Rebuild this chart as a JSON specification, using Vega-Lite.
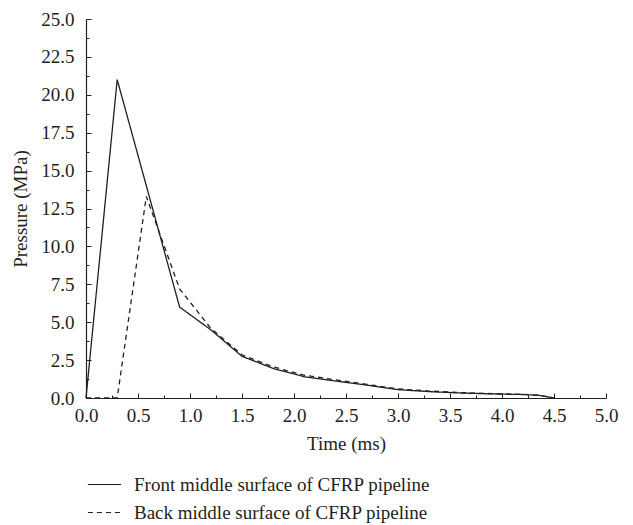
{
  "$schema": "https://vega.github.io/schema/vega-lite/v6.json",
  "autosize": "none",
  "width": 520,
  "height": 379,
  "padding": {"left": 86, "top": 19, "right": 27, "bottom": 127},
  "background": "white",
  "config": {
    "view": {"stroke": null},
    "font": "Liberation Serif",
    "axis": {
      "domainColor": "#231f20",
      "domainWidth": 1.2,
      "tickColor": "#231f20",
      "tickWidth": 1,
      "grid": false,
      "labelFlush": false,
      "labelFont": "Liberation Serif",
      "labelFontSize": 19,
      "labelColor": "#231f20",
      "titleFont": "Liberation Serif",
      "titleFontSize": 19,
      "titleFontWeight": "normal",
      "titleColor": "#231f20"
    }
  },
  "data": {
    "values": [
      {"t": 0.0, "p": 0.0, "s": "Front middle surface of CFRP pipeline"},
      {"t": 0.3, "p": 21.0, "s": "Front middle surface of CFRP pipeline"},
      {"t": 0.9, "p": 6.0, "s": "Front middle surface of CFRP pipeline"},
      {"t": 1.2, "p": 4.5, "s": "Front middle surface of CFRP pipeline"},
      {"t": 1.5, "p": 2.75, "s": "Front middle surface of CFRP pipeline"},
      {"t": 1.8, "p": 1.95, "s": "Front middle surface of CFRP pipeline"},
      {"t": 2.1, "p": 1.4, "s": "Front middle surface of CFRP pipeline"},
      {"t": 2.4, "p": 1.12, "s": "Front middle surface of CFRP pipeline"},
      {"t": 2.7, "p": 0.85, "s": "Front middle surface of CFRP pipeline"},
      {"t": 3.0, "p": 0.55, "s": "Front middle surface of CFRP pipeline"},
      {"t": 3.3, "p": 0.42, "s": "Front middle surface of CFRP pipeline"},
      {"t": 3.6, "p": 0.33, "s": "Front middle surface of CFRP pipeline"},
      {"t": 3.9, "p": 0.27, "s": "Front middle surface of CFRP pipeline"},
      {"t": 4.2, "p": 0.23, "s": "Front middle surface of CFRP pipeline"},
      {"t": 4.35, "p": 0.18, "s": "Front middle surface of CFRP pipeline"},
      {"t": 4.5, "p": 0.0, "s": "Front middle surface of CFRP pipeline"},
      {"t": 0.0, "p": 0.0, "s": "Back middle surface of CFRP pipeline"},
      {"t": 0.3, "p": 0.0, "s": "Back middle surface of CFRP pipeline"},
      {"t": 0.58, "p": 13.3, "s": "Back middle surface of CFRP pipeline"},
      {"t": 0.9, "p": 7.2, "s": "Back middle surface of CFRP pipeline"},
      {"t": 1.2, "p": 4.6, "s": "Back middle surface of CFRP pipeline"},
      {"t": 1.5, "p": 2.85, "s": "Back middle surface of CFRP pipeline"},
      {"t": 1.8, "p": 2.05, "s": "Back middle surface of CFRP pipeline"},
      {"t": 2.1, "p": 1.5, "s": "Back middle surface of CFRP pipeline"},
      {"t": 2.4, "p": 1.2, "s": "Back middle surface of CFRP pipeline"},
      {"t": 2.7, "p": 0.9, "s": "Back middle surface of CFRP pipeline"},
      {"t": 3.0, "p": 0.6, "s": "Back middle surface of CFRP pipeline"},
      {"t": 3.3, "p": 0.46, "s": "Back middle surface of CFRP pipeline"},
      {"t": 3.6, "p": 0.36, "s": "Back middle surface of CFRP pipeline"},
      {"t": 3.9, "p": 0.29, "s": "Back middle surface of CFRP pipeline"},
      {"t": 4.2, "p": 0.24, "s": "Back middle surface of CFRP pipeline"},
      {"t": 4.35, "p": 0.19, "s": "Back middle surface of CFRP pipeline"},
      {"t": 4.5, "p": 0.0, "s": "Back middle surface of CFRP pipeline"}
    ]
  },
  "mark": {"type": "line", "color": "#231f20", "strokeWidth": 1.3},
  "encoding": {
    "x": {
      "field": "t", "type": "quantitative",
      "scale": {"domain": [0, 5], "nice": false},
      "axis": {
        "title": "Time (ms)",
        "values": [0, 0.25, 0.5, 0.75, 1, 1.25, 1.5, 1.75, 2, 2.25, 2.5, 2.75, 3, 3.25, 3.5, 3.75, 4, 4.25, 4.5, 4.75, 5],
        "labelExpr": "datum.value % 0.5 === 0 ? format(datum.value, '.1f') : ''",
        "tickSize": {"condition": {"test": "datum.value % 0.5 === 0", "value": -5}, "value": -3},
        "labelPadding": 13,
        "titlePadding": 9
      }
    },
    "y": {
      "field": "p", "type": "quantitative",
      "scale": {"domain": [0, 25], "nice": false},
      "axis": {
        "title": "Pressure (MPa)",
        "values": [0, 1.25, 2.5, 3.75, 5, 6.25, 7.5, 8.75, 10, 11.25, 12.5, 13.75, 15, 16.25, 17.5, 18.75, 20, 21.25, 22.5, 23.75, 25],
        "labelExpr": "datum.value % 2.5 === 0 ? format(datum.value, '.1f') : ''",
        "tickSize": {"condition": {"test": "datum.value % 2.5 === 0", "value": -5}, "value": -3},
        "labelPadding": 17,
        "titlePadding": 10
      }
    },
    "strokeDash": {
      "field": "s", "type": "nominal",
      "scale": {
        "domain": ["Front middle surface of CFRP pipeline", "Back middle surface of CFRP pipeline"],
        "range": [[1, 0], [5, 4]]
      },
      "legend": {
        "title": null,
        "orient": "none",
        "legendX": 1,
        "legendY": 448,
        "direction": "vertical",
        "symbolType": "stroke",
        "symbolSize": 1100,
        "symbolStrokeWidth": 1.2,
        "symbolStrokeColor": "#231f20",
        "labelFont": "Liberation Serif",
        "labelFontSize": 19,
        "labelColor": "#231f20",
        "labelOffset": 12,
        "rowPadding": -9,
        "padding": 0,
        "labelLimit": 500
      }
    }
  }
}
